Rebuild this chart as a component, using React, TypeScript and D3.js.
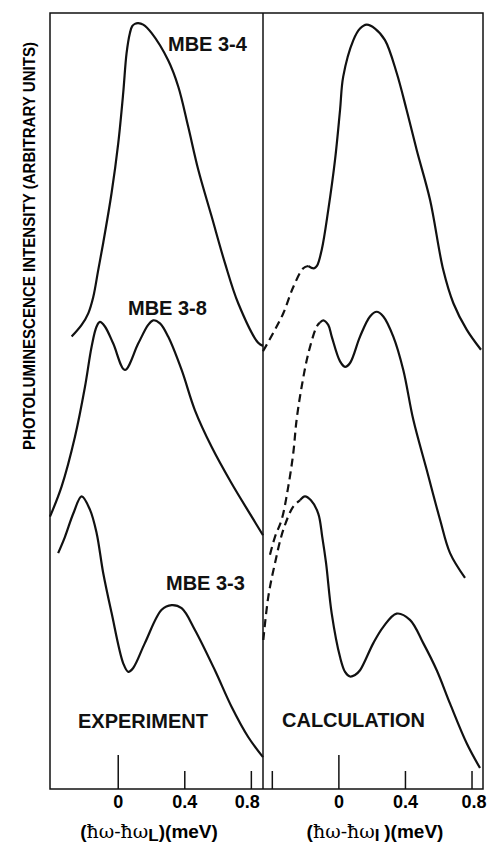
import React from 'react';
import * as d3 from 'd3';

// photon energy offset (meV) vs intensity (arbitrary units, 0-100)
const exp34: [number, number][] = [
  [-0.28, 58.3], [-0.22, 59.8], [-0.18, 61.3], [-0.15, 63.4], [-0.12, 66.9], [-0.09, 70.4],
  [-0.04, 76.8], [0.0, 83.2], [0.03, 89.7], [0.05, 94.8], [0.07, 97.4], [0.084, 98.3],
  [0.1, 98.6], [0.12, 98.7], [0.15, 98.5], [0.201, 97.4], [0.3, 93.9], [0.361, 90.5],
  [0.421, 85.3], [0.481, 79.8], [0.561, 73.8], [0.641, 67.8], [0.721, 62.6], [0.841, 57.5],
  [0.87, 57.1],
];

const exp38: [number, number][] = [
  [-0.41, 35.1], [-0.34, 39.0], [-0.26, 45.4], [-0.2, 51.8], [-0.16, 57.0], [-0.13, 59.6],
  [-0.11, 60.2], [-0.08, 59.6], [-0.03, 57.4], [0.04, 54.0], [0.12, 57.4], [0.18, 59.8],
  [0.21, 60.4], [0.251, 60.0], [0.3, 58.3], [0.381, 54.0], [0.461, 48.8], [0.561, 44.1],
  [0.681, 39.4], [0.802, 35.1], [0.87, 32.7],
];

const exp33: [number, number][] = [
  [-0.361, 30.4], [-0.32, 32.5], [-0.27, 35.5], [-0.22, 37.7], [-0.17, 36.0], [-0.13, 33.0],
  [-0.09, 27.8], [-0.04, 22.7], [0.03, 16.2], [0.06, 15.1], [0.09, 15.6], [0.16, 18.8],
  [0.261, 23.1], [0.321, 23.7], [0.381, 23.3], [0.461, 20.5], [0.581, 15.3], [0.681, 10.6],
  [0.781, 6.7], [0.87, 4.1],
];

const calc34Dash: [number, number][] = [
  [-0.456, 56.4], [-0.394, 58.8], [-0.334, 61.3], [-0.274, 64.7], [-0.214, 67.1], [-0.184, 67.4],
];
const calc34: [number, number][] = [
  [-0.184, 67.4], [-0.15, 67.1], [-0.132, 67.4], [-0.103, 69.5], [-0.064, 74.6], [-0.023, 81.1],
  [0.007, 87.5], [0.026, 91.8], [0.087, 96.5], [0.127, 98.0], [0.167, 98.5], [0.217, 98.0],
  [0.277, 96.5], [0.347, 92.3], [0.407, 87.5], [0.468, 82.3], [0.548, 75.9], [0.627, 66.9],
  [0.688, 62.6], [0.768, 59.2], [0.854, 56.6],
];

const calc38Dash: [number, number][] = [
  [-0.414, 30.2], [-0.384, 32.5], [-0.344, 34.7], [-0.304, 39.0], [-0.274, 43.3], [-0.254, 47.6],
  [-0.224, 51.8], [-0.184, 56.1], [-0.133, 59.6], [-0.114, 60.1],
];
const calc38: [number, number][] = [
  [-0.114, 60.1], [-0.094, 60.4], [-0.064, 59.8], [-0.043, 58.3], [0.007, 55.1], [0.037, 54.4],
  [0.067, 54.9], [0.127, 58.3], [0.187, 60.9], [0.227, 61.5], [0.267, 60.9], [0.327, 58.3],
  [0.387, 54.0], [0.447, 47.6], [0.528, 41.1], [0.608, 34.7], [0.668, 30.4], [0.758, 27.2],
];

const calc33Dash: [number, number][] = [
  [-0.454, 19.2], [-0.424, 24.8], [-0.384, 29.1], [-0.334, 33.4], [-0.274, 36.4], [-0.234, 37.2],
];
const calc33: [number, number][] = [
  [-0.234, 37.2], [-0.204, 37.7], [-0.168, 37.2], [-0.124, 35.5], [-0.1, 32.5], [-0.077, 29.1],
  [-0.043, 22.6], [0.007, 17.0], [0.037, 15.1], [0.067, 14.5], [0.097, 14.7], [0.127, 15.3],
  [0.207, 18.8], [0.267, 20.9], [0.347, 22.6], [0.427, 21.8], [0.507, 18.8], [0.588, 15.3],
  [0.668, 11.0], [0.768, 5.9], [0.848, 2.7],
];

const leftTicks = [0, 0.4, 0.8];
const rightTicks = [-0.4, 0, 0.4, 0.8];
const tickLabels = [0, 0.4, 0.8];

const W = 487;
const H = 844;
const frame = { left: 50, mid: 263, right: 483, top: 13, bottom: 789 };
const sans = '"Liberation Sans", Arial, Helvetica, sans-serif';

const App: React.FC = () => {
  const xL = d3.scaleLinear().domain([-0.41, 0.87]).range([frame.left, frame.mid]);
  const xR = d3.scaleLinear().domain([-0.456, 0.866]).range([frame.mid, frame.right]);
  const y = d3.scaleLinear().domain([0, 100]).range([frame.bottom, frame.top]);

  const mk = (x: d3.ScaleLinear<number, number>) =>
    d3.line<[number, number]>()
      .x(d => x(d[0]))
      .y(d => y(d[1]))
      .curve(d3.curveCatmullRom.alpha(0.5));
  const lineL = mk(xL);
  const lineR = mk(xR);

  const solid = { fill: 'none', stroke: '#111', strokeWidth: 2.2, strokeLinejoin: 'round' as const };
  const dashed = { ...solid, strokeDasharray: '8 5' };

  const ticks = (x: d3.ScaleLinear<number, number>, vals: number[]) =>
    vals.map(v => (
      <line key={v} x1={x(v)} x2={x(v)} y1={frame.bottom} y2={frame.bottom - (v === 0 ? 34 : 18)}
        stroke="#111" strokeWidth={1.5} />
    ));

  const labels = (x: d3.ScaleLinear<number, number>, shift: number) =>
    tickLabels.map(v => (
      <text key={v} x={x(v) + (v === 0.8 ? shift : 0)} y={808} textAnchor="middle"
        fontFamily={sans} fontWeight="bold" fontSize={18}>{v === 0 ? '0' : v.toFixed(1)}</text>
    ));

  const axisTitle = (cx: number, sub: string) => (
    <text x={cx} y={838} textAnchor="middle" fontFamily={sans} fontWeight="bold" fontSize={19}>
      <tspan>(</tspan>
      <tspan fontFamily='"DejaVu Serif", serif' fontWeight="normal">ħω-ħω</tspan>
      <tspan dy={3} fontSize={17}>{sub}</tspan>
      <tspan dy={-3}>)(meV)</tspan>
    </text>
  );

  return (
    <svg width={W} height={H} style={{ position: 'absolute', left: 0, top: 0, background: '#fff' }}>
      {/* frame */}
      <rect x={frame.left} y={frame.top} width={frame.right - frame.left} height={frame.bottom - frame.top}
        fill="none" stroke="#111" strokeWidth={1.5} />
      <line x1={frame.mid} x2={frame.mid} y1={frame.top} y2={frame.bottom} stroke="#111" strokeWidth={1.5} />

      {ticks(xL, leftTicks)}
      {ticks(xR, rightTicks)}

      {/* experiment */}
      <path d={lineL(exp34) ?? ''} {...solid} />
      <path d={lineL(exp38) ?? ''} {...solid} />
      <path d={lineL(exp33) ?? ''} {...solid} />

      {/* calculation */}
      <path d={lineR(calc34Dash) ?? ''} {...dashed} />
      <path d={lineR(calc34) ?? ''} {...solid} />
      <path d={lineR(calc38Dash) ?? ''} {...dashed} />
      <path d={lineR(calc38) ?? ''} {...solid} />
      <path d={lineR(calc33Dash) ?? ''} {...dashed} />
      <path d={lineR(calc33) ?? ''} {...solid} />

      <g fontFamily={sans} fontWeight="bold" fontSize={20} fill="#111">
        <text x={168} y={51}>MBE 3-4</text>
        <text x={128} y={315}>MBE 3-8</text>
        <text x={166} y={590}>MBE 3-3</text>
        <text x={78} y={728}>EXPERIMENT</text>
        <text x={282} y={727}>CALCULATION</text>
      </g>

      {labels(xL, -4)}
      {labels(xR, 2)}
      {axisTitle(149, 'L')}
      {axisTitle(375, 'I ')}

      <text transform="translate(35,246) rotate(-90)" textAnchor="middle" fontFamily={sans}
        fontWeight="bold" fontSize={16} textLength={408} lengthAdjust="spacingAndGlyphs">
        PHOTOLUMINESCENCE INTENSITY (ARBITRARY UNITS)
      </text>
    </svg>
  );
};

export default App;
